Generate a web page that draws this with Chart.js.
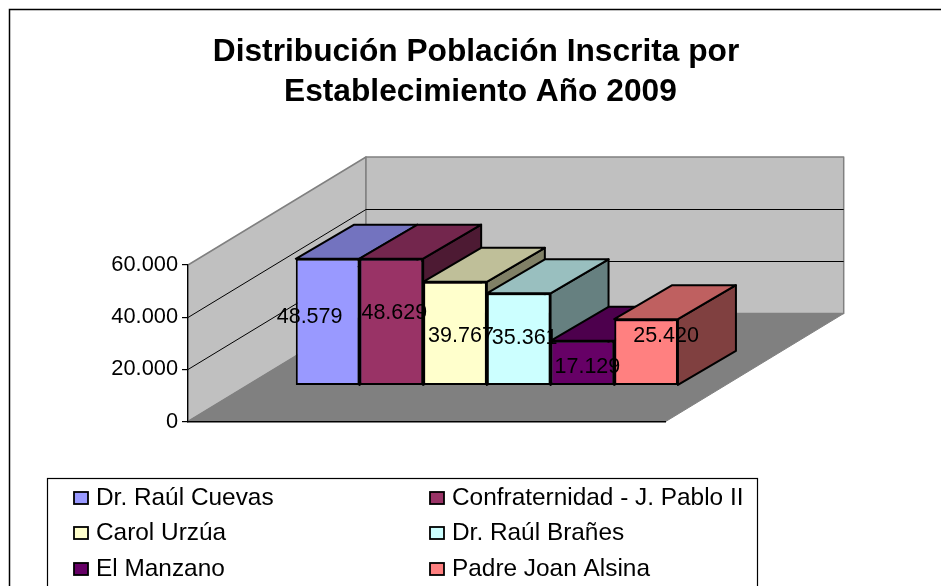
<!DOCTYPE html>
<html>
<head>
<meta charset="utf-8">
<style>
html,body{margin:0;padding:0;background:#fff;width:941px;height:586px;overflow:hidden}
#box{position:absolute;left:0;top:0;width:952px;height:586px}
</style>
<script src="https://cdn.jsdelivr.net/npm/chart.js@4"></script>
</head>
<body>
<div id="box"><canvas id="c" width="952" height="586"></canvas></div>
<script>
const establishments = ["Dr. Raúl Cuevas","Confraternidad - J. Pablo II","Carol Urzúa","Dr. Raúl Brañes","El Manzano","Padre Joan Alsina"];
const population = [48579,48629,39767,35361,17129,25420];
const barColors = ["#9999FF","#993366","#FFFFCC","#CCFFFF","#660066","#FF8080"];
const categories = ["2009"];
const titleLines = ["Distribución Población Inscrita por"," Establecimiento Año 2009"];

const FONT = '"Liberation Sans", Arial, sans-serif';
const WALL = {dx:178, dy:-108};          // depth of the 3D box
const PLANE = {dx:60, dy:-36};           // where the bars' front face sits
const BAR = {dx:58, dy:-34};             // depth of a bar
const labelNudge = [[-18,-5],[3,-9],[6,3],[6,-1],[5,4],[20,-16]];

const fmt = v => String(v).replace(/\B(?=(\d{3})+$)/g,'.');
const shade = (hex,f) => {
  const n = parseInt(hex.slice(1),16);
  return `rgb(${Math.round((n>>16&255)*f)},${Math.round((n>>8&255)*f)},${Math.round((n&255)*f)})`;
};
const poly = (ctx,pts,fill,stroke,lw) => {
  ctx.beginPath();
  pts.forEach((p,i)=> i?ctx.lineTo(p[0],p[1]):ctx.moveTo(p[0],p[1]));
  ctx.closePath();
  if(fill){ctx.fillStyle=fill;ctx.fill();}
  if(stroke){ctx.strokeStyle=stroke;ctx.lineWidth=lw;ctx.lineJoin='round';ctx.stroke();}
};

const threeD = {
  id:'threeD',
  afterLayout(chart){
    chart.titleBlock.left = 0;
    chart.titleBlock.right = chart.width;
  },
  beforeDraw(chart){
    const {ctx,chartArea:a,scales:{y}} = chart;
    const {dx,dy} = WALL;
    ctx.save();
    // outer frame
    ctx.strokeStyle='#000';ctx.lineWidth=1.5;
    ctx.beginPath();ctx.moveTo(9.5,600);ctx.lineTo(9.5,9.5);ctx.lineTo(960,9.5);ctx.stroke();
    // side wall, back wall, floor
    poly(ctx,[[a.left,a.top],[a.left+dx,a.top+dy],[a.left+dx,a.bottom+dy],[a.left,a.bottom]],'#C0C0C0','#808080',1.5);
    poly(ctx,[[a.left+dx,a.top+dy],[a.right+dx,a.top+dy],[a.right+dx,a.bottom+dy],[a.left+dx,a.bottom+dy]],'#C0C0C0','#808080',1.5);
    poly(ctx,[[a.left,a.bottom],[a.right,a.bottom],[a.right+dx,a.bottom+dy],[a.left+dx,a.bottom+dy]],'#808080','#808080',1);
    // gridlines on the walls
    ctx.strokeStyle='#000';ctx.lineWidth=1;
    y.ticks.forEach(t=>{
      if(t.value===0||t.value===y.max) return;
      const py = Math.round(y.getPixelForValue(t.value))+.5;
      ctx.beginPath();ctx.moveTo(a.left,py);ctx.lineTo(a.left+dx,py+dy);ctx.lineTo(a.right+dx,py+dy);ctx.stroke();
    });
    ctx.restore();
  },
  beforeDatasetsDraw(chart){
    const {ctx} = chart;
    ctx.save();
    ctx.translate(PLANE.dx,PLANE.dy);
    chart.data.datasets.forEach((ds,i)=>{
      const el = chart.getDatasetMeta(i).data[0];
      const l = el.x-el.width/2, r = el.x+el.width/2, t = el.y, b = el.base;
      const col = ds.backgroundColor;
      poly(ctx,[[r,t],[r+BAR.dx,t+BAR.dy],[r+BAR.dx,b+BAR.dy],[r,b]],shade(col,.5),'#000',2);
      poly(ctx,[[l,t],[l+BAR.dx,t+BAR.dy],[r+BAR.dx,t+BAR.dy],[r,t]],shade(col,.75),'#000',2);
      el.draw(ctx);
    });
    // value labels
    ctx.fillStyle='#000';
    ctx.font='21.5px '+FONT;
    ctx.textAlign='center';ctx.textBaseline='middle';
    chart.data.datasets.forEach((ds,i)=>{
      const el = chart.getDatasetMeta(i).data[0];
      const n = labelNudge[i];
      ctx.fillText(fmt(ds.data[0]),el.x+n[0],(el.y+el.base)/2+n[1]);
    });
    ctx.restore();
    // legend
    ctx.save();
    const L = {x:47.5,y:478.5,w:710,h:130,col:[74,430],row:[498,533,569]};
    ctx.strokeStyle='#000';ctx.lineWidth=1.2;
    ctx.strokeRect(L.x,L.y,L.w,L.h);
    ctx.font='24.4px '+FONT;ctx.textAlign='left';ctx.textBaseline='middle';
    establishments.forEach((name,i)=>{
      const x = L.col[i%2], y = L.row[Math.floor(i/2)];
      ctx.fillStyle=barColors[i];ctx.strokeStyle='#000';ctx.lineWidth=1.8;
      ctx.fillRect(x,y-6,14,12);ctx.strokeRect(x,y-6,14,12);
      ctx.fillStyle='#000';
      ctx.fillText(name,x+22,y);
    });
    ctx.restore();
    return false;
  }
};

new Chart(document.getElementById('c'),{
  type:'bar',
  data:{
    labels:categories,
    datasets:establishments.map((name,i)=>({
      label:name,
      data:[population[i]],
      backgroundColor:barColors[i],
      borderColor:'#000',
      borderWidth:2,
      borderSkipped:false
    }))
  },
  plugins:[threeD],
  options:{
    responsive:false,
    animation:false,
    layout:{padding:{left:0,top:0,right:286.3,bottom:164.5}},
    datasets:{bar:{categoryPercentage:.8,barPercentage:1}},
    plugins:{
      legend:{display:false},
      tooltip:{enabled:false},
      title:{
        display:true,
        text:titleLines,
        color:'#000',
        font:{family:FONT,size:31.7,weight:'bold',lineHeight:1.262},
        padding:{top:32,bottom:153}
      }
    },
    scales:{
      x:{
        afterFit(s){s.height=0;},
        grid:{display:false},
        border:{display:true,color:'#000',width:1.5},
        ticks:{display:false}
      },
      y:{
        min:0,max:60000,
        afterFit(s){s.width=188;},
        grid:{drawOnChartArea:false,drawTicks:true,tickLength:6,color:'#000',lineWidth:1.2},
        border:{display:true,color:'#000',width:1.2},
        ticks:{stepSize:20000,color:'#000',padding:4,font:{family:FONT,size:21.8},callback:v=>fmt(v)}
      }
    }
  }
});
</script>
</body>
</html>
